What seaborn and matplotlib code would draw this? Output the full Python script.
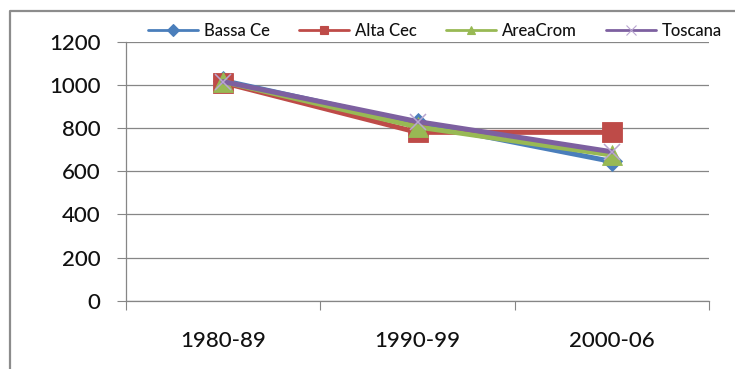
import matplotlib
matplotlib.use("Agg")
import matplotlib.pyplot as plt
from matplotlib.lines import Line2D
import seaborn as sns

# Data
periods = ["1980-89", "1990-99", "2000-06"]
series_names = ["Bassa Ce", "Alta Cec", "AreaCrom", "Toscana"]
bassa_ce = [1020, 822, 645]
alta_cec = [1010, 780, 780]
area_crom = [1015, 805, 675]
toscana = [1015, 830, 690]
y_ticks = [0, 200, 400, 600, 800, 1000, 1200]

values = {
    "Bassa Ce": bassa_ce,
    "Alta Cec": alta_cec,
    "AreaCrom": area_crom,
    "Toscana": toscana,
}

# Styling
colors = {"Bassa Ce": "#4A7EBB", "Alta Cec": "#BE4B48", "AreaCrom": "#98B954", "Toscana": "#7D60A0"}
markers = {"Bassa Ce": "D", "Alta Cec": "s", "AreaCrom": "^", "Toscana": "x"}
msizes = {"Bassa Ce": 10, "Alta Cec": 14, "AreaCrom": 14, "Toscana": 12}
grid_color = "#868686"
text_color = "#111111"

sns.set_theme(style="white")
plt.rcParams["font.family"] = ["Lato", "DejaVu Sans"]

fig = plt.figure(figsize=(7.35, 3.69), dpi=100)
W, H = 735, 369
ax = fig.add_axes([126 / W, 1 - 300.7 / H, (709 - 126) / W, (300.7 - 41.7) / H])

for name in series_names:
    c = colors[name]
    is_x = markers[name] == "x"
    sns.lineplot(
        x=periods, y=values[name], ax=ax, color=c,
        linewidth=3.6, marker=markers[name], markersize=msizes[name],
        markeredgecolor="#B9A6D0" if is_x else c,
        markeredgewidth=1.1 if is_x else 0.6,
        sort=False, legend=False,
    )

ax.set_xlim(-0.5, 2.5)
ax.set_ylim(0, 1200)
ax.set_yticks(y_ticks)
ax.set_xlabel("")
ax.set_ylabel("")

# Category boundaries carry the tick marks, labels sit at category centres
ax.set_xticks([-0.5, 0.5, 1.5, 2.5])
ax.set_xticklabels([])
ax.set_xticks([0, 1, 2], minor=True)
ax.set_xticklabels(periods, minor=True)
ax.tick_params(axis="x", which="major", direction="out", length=6.5, width=0.8,
               color=grid_color, bottom=True)
ax.tick_params(axis="x", which="minor", length=0, pad=22, labelsize=16, labelcolor=text_color)
ax.tick_params(axis="y", which="major", direction="out", length=6.5, width=0.8,
               color=grid_color, left=True, pad=12, labelsize=16, labelcolor=text_color)
for lbl in ax.get_xticklabels(minor=True) + ax.get_yticklabels():
    lbl.set_fontweight("medium")

ax.yaxis.grid(True, color=grid_color, linewidth=0.9)
ax.xaxis.grid(False)
ax.set_axisbelow(True)
for side in ["top", "right"]:
    ax.spines[side].set_visible(False)
for side in ["left", "bottom"]:
    ax.spines[side].set_color(grid_color)
    ax.spines[side].set_linewidth(0.9)

# Legend across the top
handles = [
    Line2D([], [], color=colors[n], lw=2, marker=markers[n],
           markersize=6 if markers[n] != "x" else 7,
           markeredgecolor=colors[n] if markers[n] != "x" else "#B9A6D0",
           markeredgewidth=0.8)
    for n in series_names
]
leg = fig.legend(handles, series_names, loc="center", bbox_to_anchor=(0.592, 1 - 31 / H),
                 ncol=4, frameon=False, fontsize=12, handlelength=3.0,
                 handletextpad=0.35, columnspacing=1.75, borderaxespad=0)
for t in leg.get_texts():
    t.set_color(text_color)
    t.set_fontweight("medium")

# Chart frame (top and left edges)
frame_x, frame_y = 10 / W, 1 - 11 / H
fig.add_artist(Line2D([frame_x, frame_x, 1.0], [0.0, frame_y, frame_y],
                      transform=fig.transFigure, color="#8C8C8C", linewidth=1.6))

fig.savefig("out.png", dpi=100)
